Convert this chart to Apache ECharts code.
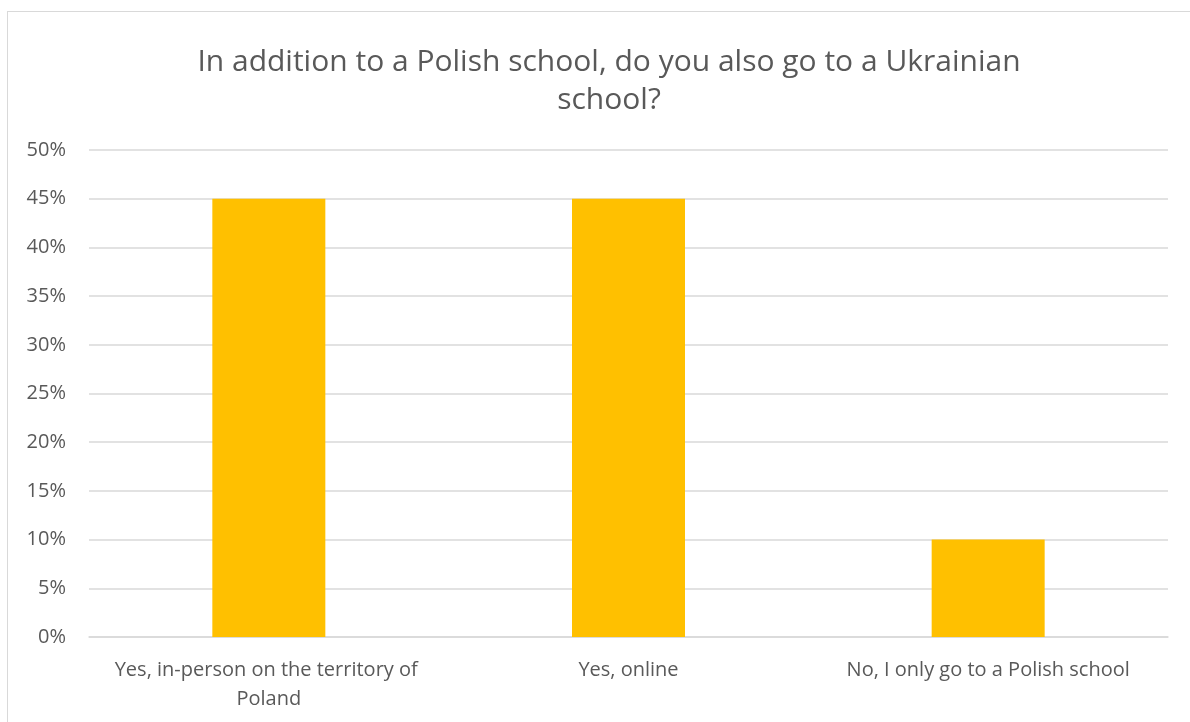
<!DOCTYPE html>
<html>
<head>
<meta charset="utf-8">
<script src="https://cdn.jsdelivr.net/npm/echarts@6/dist/echarts.min.js"></script>
<style>
  html, body { margin: 0; padding: 0; background: #fff; }
  #frame { position: absolute; left: 7px; top: 11px; width: 1200px; height: 730px; border: 1.5px solid #d9d9d9; box-sizing: border-box; }
  #chart { position: absolute; left: 0; top: 0; width: 1190px; height: 722px; }
</style>
</head>
<body>
<div id="frame"></div>
<div id="chart"></div>
<script>
const titleText = 'In addition to a Polish school, do you also go to a Ukrainian\nschool?';
const categories = ['Yes, in-person on the territory of Poland', 'Yes, online', 'No, I only go to a Polish school'];
const shares = [45, 45, 10];
const yTicks = { min: 0, max: 50, interval: 5 };

const chart = echarts.init(document.getElementById('chart'), null, { renderer: 'canvas' });
chart.setOption({
  animation: false,
  title: {
    text: titleText,
    left: 604,
    top: 38,
    textAlign: 'center',
    textStyle: { fontFamily: 'Open Sans', fontSize: 30, fontWeight: 'normal', color: '#595959', lineHeight: 38 }
  },
  grid: { left: 89, right: 22, top: 150, bottom: 85, containLabel: false },
  xAxis: {
    type: 'category',
    data: categories,
    axisLine: { lineStyle: { color: '#d9d9d9', width: 1.5 } },
    axisTick: { show: false },
    axisLabel: {
      fontFamily: 'Open Sans', fontSize: 20, color: '#595959', margin: 19,
      width: 340, overflow: 'break', lineHeight: 29, interval: 0
    }
  },
  yAxis: {
    type: 'value',
    min: yTicks.min, max: yTicks.max, interval: yTicks.interval,
    axisLine: { show: false },
    axisTick: { show: false },
    splitLine: { lineStyle: { color: '#d9d9d9', width: 1.5 } },
    axisLabel: { fontFamily: 'Open Sans', fontSize: 20, color: '#595959', margin: 23, formatter: '{value}%' }
  },
  series: [{
    type: 'bar',
    data: shares,
    barWidth: 113,
    itemStyle: { color: '#FFC000' }
  }]
});
</script>
</body>
</html>
